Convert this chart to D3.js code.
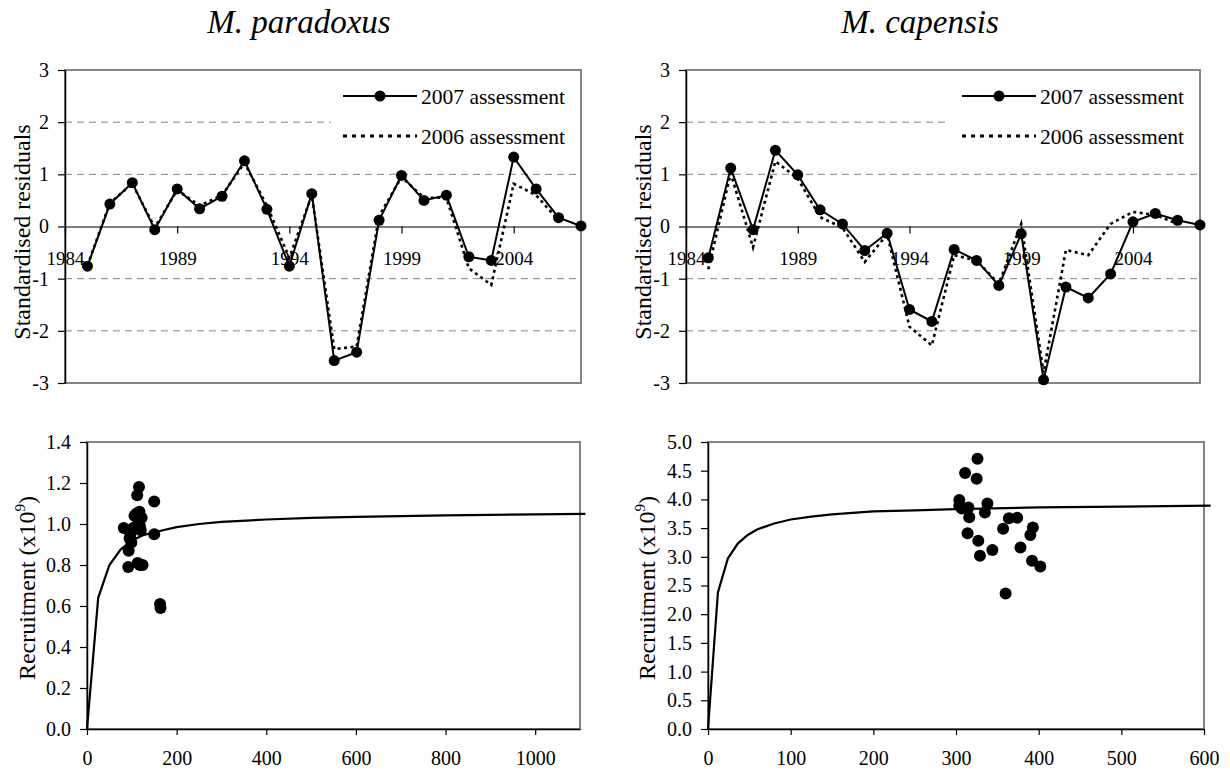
<!DOCTYPE html>
<html><head><meta charset="utf-8">
<script src="https://cdn.jsdelivr.net/npm/d3@7"></script>
<style>
body{margin:0;background:#fff}
svg{display:block}
</style>
</head><body>
<svg id="c" width="1230" height="772"></svg>
<script>
// ---------- DATA ----------
const years = [1985,1986,1987,1988,1989,1990,1991,1992,1993,1994,1995,1996,1997,1998,1999,2000,2001,2002,2003,2004,2005,2006,2007];
const yearTicks = [1984,1989,1994,1999,2004];
const residTicks = [-3,-2,-1,0,1,2,3];
const residGrid = [-2,-1,1,2];

const paraRes2007 = [-0.76,0.43,0.84,-0.06,0.72,0.34,0.58,1.26,0.33,-0.76,0.63,-2.57,-2.41,0.12,0.98,0.50,0.60,-0.58,-0.65,1.33,0.72,0.17,0.01];
const paraRes2006 = [-0.75,0.45,0.82,-0.02,0.70,0.40,0.60,1.22,0.40,-0.60,0.60,-2.35,-2.30,0.20,0.95,0.55,0.55,-0.80,-1.12,0.82,0.60,0.12,null];

const capeRes2007 = [-0.60,1.12,-0.06,1.46,0.99,0.32,0.05,-0.46,-0.13,-1.59,-1.82,-0.44,-0.65,-1.13,-0.14,-2.94,-1.16,-1.37,-0.91,0.09,0.25,0.12,0.03];
const capeRes2006 = [-0.82,1.02,-0.40,1.25,0.92,0.18,-0.02,-0.68,-0.15,-1.92,-2.28,-0.55,-0.65,-1.10,0.05,-2.80,-0.45,-0.55,0.05,0.28,0.22,0.05,null];

const legendLabels = ["2007 assessment","2006 assessment"];
const titles = ["M. paradoxus","M. capensis"];

// stock–recruitment: spawning biomass (x) vs recruitment (x10^9)
const paraSRx = [82,93,92,95,97,99,103,106,112,116,117,114,122,120,118,113,118,124,150,150,163,164,110];
const paraSRy = [0.98,0.87,0.79,0.93,0.95,0.91,0.98,1.04,1.14,1.18,1.06,1.00,1.03,0.97,0.99,0.81,0.80,0.80,1.11,0.95,0.61,0.59,1.05];
const paraCurveX = [0,25,50,75,100,125,150,200,250,300,400,500,600,800,1000,1112];
const paraCurveY = [0,0.64,0.80,0.875,0.92,0.945,0.96,0.985,1.0,1.01,1.022,1.03,1.035,1.042,1.047,1.049];
const paraXTicks = [0,200,400,600,800,1000];
const paraYTicks = [0,0.2,0.4,0.6,0.8,1.0,1.2,1.4];

const capeSRx = [304,304,307,311,315,316,314,326,325,327,329,338,335,344,357,360,364,374,378,390,393,392,402];
const capeSRy = [3.99,3.89,3.84,4.46,3.86,3.69,3.41,4.71,4.36,3.28,3.02,3.93,3.77,3.12,3.49,2.36,3.67,3.68,3.16,3.38,3.51,2.93,2.83];
const capeCurveX = [0,12,24,36,48,60,80,100,125,150,200,250,300,400,500,608];
const capeCurveY = [0,2.38,2.97,3.23,3.38,3.48,3.58,3.65,3.70,3.74,3.79,3.81,3.83,3.86,3.875,3.89];
const capeXTicks = [0,100,200,300,400,500,600];
const capeYTicks = [0,0.5,1.0,1.5,2.0,2.5,3.0,3.5,4.0,4.5,5.0];

// ---------- DRAWING ----------
const svg = d3.select("#c");
const GRAY = "#858585";
const TICKFS = 20;
const SERIF = "'Liberation Serif', 'Times New Roman', 'DejaVu Serif', serif";

function residPanel(o){
  const g = svg.append("g");
  const x = d3.scaleLinear().domain([1984,2007]).range([o.x0,o.x1]);
  const y = d3.scaleLinear().domain([-3,3]).range([o.y1,o.y0]);

  g.append("text").attr("x",o.titleX).attr("y",33).attr("text-anchor","middle")
    .style("font-size","33px").style("font-style","italic").text(o.title);

  g.selectAll("line.grid").data(residGrid).join("line")
    .attr("x1",o.x0).attr("x2",o.x1).attr("y1",d=>y(d)).attr("y2",d=>y(d))
    .attr("stroke",GRAY).attr("stroke-width",1).attr("stroke-dasharray","7,5");

  g.append("rect").attr("x",o.x1-250).attr("y",o.y0+3).attr("width",248).attr("height",80).attr("fill","#fff");

  g.append("rect").attr("x",o.x0).attr("y",o.y0).attr("width",o.x1-o.x0).attr("height",o.y1-o.y0)
    .attr("fill","none").attr("stroke",GRAY).attr("stroke-width",2);

  const ya = g.append("g").attr("transform",`translate(${o.x0},0)`)
    .call(d3.axisLeft(y).tickValues(residTicks).tickSize(7).tickSizeOuter(0).tickPadding(9).tickFormat(d=>String(d)));
  ya.select(".domain").attr("stroke","#000").attr("stroke-width",1.5);
  ya.selectAll(".tick line").attr("stroke","#000").attr("stroke-width",1.2);
  ya.selectAll("text").style("font-size",TICKFS+"px");

  const xa = g.append("g").attr("transform",`translate(0,${y(0)})`)
    .call(d3.axisBottom(x).tickValues(yearTicks).tickSize(7).tickSizeOuter(0).tickPadding(18).tickFormat(d=>String(d)));
  xa.select(".domain").attr("stroke","#000").attr("stroke-width",1.2);
  xa.selectAll(".tick line").attr("stroke","#000").attr("stroke-width",1.2);
  xa.selectAll("text").style("font-size","19px");

  g.append("text").attr("transform",`translate(${o.yTitleX},232) rotate(-90)`).attr("text-anchor","middle")
    .style("font-size","24px").text("Standardised residuals");

  const d07 = years.map((yr,i)=>[yr,o.s07[i]]);
  const d06 = years.map((yr,i)=>[yr,o.s06[i]]);
  const line = d3.line().defined(d=>d[1]!=null).x(d=>x(d[0])).y(d=>y(d[1]));

  g.append("path").datum(d06).attr("d",line).attr("fill","none").attr("stroke","#000")
    .attr("stroke-width",2.6).attr("stroke-dasharray","3,3.5");
  g.append("path").datum(d07).attr("d",line).attr("fill","none").attr("stroke","#000").attr("stroke-width",2);
  g.selectAll("circle.m").data(d07).join("circle")
    .attr("cx",d=>x(d[0])).attr("cy",d=>y(d[1])).attr("r",5.5).attr("fill","#000");

  const lx0 = o.x1-238, lx1 = o.x1-164, ly = [96,136];
  g.append("line").attr("x1",lx0).attr("x2",lx1).attr("y1",ly[0]).attr("y2",ly[0]).attr("stroke","#000").attr("stroke-width",2);
  g.append("circle").attr("cx",(lx0+lx1)/2).attr("cy",ly[0]).attr("r",5.5).attr("fill","#000");
  g.append("line").attr("x1",lx0).attr("x2",lx1).attr("y1",ly[1]).attr("y2",ly[1]).attr("stroke","#000")
    .attr("stroke-width",3).attr("stroke-dasharray","4,5");
  legendLabels.forEach((t,i)=>{
    g.append("text").attr("x",lx1+4).attr("y",ly[i]).attr("dy","0.35em").style("font-size","21.5px").text(t);
  });
}

function srPanel(o){
  const g = svg.append("g");
  const x = d3.scaleLinear().domain([0,o.xmax]).range([o.x0,o.x1]);
  const y = d3.scaleLinear().domain([0,o.ymax]).range([o.y1,o.y0]);

  g.append("rect").attr("x",o.x0).attr("y",o.y0).attr("width",o.x1-o.x0).attr("height",o.y1-o.y0)
    .attr("fill","none").attr("stroke",GRAY).attr("stroke-width",2);

  const ya = g.append("g").attr("transform",`translate(${o.x0},0)`)
    .call(d3.axisLeft(y).tickValues(o.yTicks).tickSize(7).tickSizeOuter(0).tickPadding(9).tickFormat(d3.format(".1f")));
  ya.select(".domain").attr("stroke","#000").attr("stroke-width",1.5);
  ya.selectAll(".tick line").attr("stroke","#000").attr("stroke-width",1.2);
  ya.selectAll("text").style("font-size",TICKFS+"px");

  const xa = g.append("g").attr("transform",`translate(0,${o.y1})`)
    .call(d3.axisBottom(x).tickValues(o.xTicks).tickSize(6).tickSizeOuter(0).tickPadding(16).tickFormat(d=>String(d)));
  xa.select(".domain").attr("stroke","#000").attr("stroke-width",1.5);
  xa.selectAll(".tick line").attr("stroke","#000").attr("stroke-width",1.2);
  xa.selectAll("text").style("font-size",TICKFS+"px");

  const t = g.append("text").attr("transform",`translate(${o.yTitleX},588) rotate(-90)`).attr("text-anchor","middle")
    .style("font-size","24px");
  t.append("tspan").text("Recruitment (x10");
  t.append("tspan").attr("dy",-10).style("font-size","15px").text("9");
  t.append("tspan").attr("dy",10).text(")");

  const curve = o.cx.map((v,i)=>[v,o.cy[i]]);
  g.append("path").datum(curve).attr("d",d3.line().x(d=>x(d[0])).y(d=>y(d[1])))
    .attr("fill","none").attr("stroke","#000").attr("stroke-width",2.2);

  const pts = o.px.map((v,i)=>[v,o.py[i]]);
  g.selectAll("circle.p").data(pts).join("circle")
    .attr("cx",d=>x(d[0])).attr("cy",d=>y(d[1])).attr("r",6).attr("fill","#000");
}

residPanel({x0:65,x1:581,y0:70,y1:383,title:titles[0],titleX:299,yTitleX:30,s07:paraRes2007,s06:paraRes2006});
residPanel({x0:686,x1:1200,y0:70,y1:383,title:titles[1],titleX:920,yTitleX:651,s07:capeRes2007,s06:capeRes2006});

srPanel({x0:87,x1:580,y0:442,y1:729,xmax:1100,ymax:1.4,xTicks:paraXTicks,yTicks:paraYTicks,yTitleX:35,
  cx:paraCurveX,cy:paraCurveY,px:paraSRx,py:paraSRy});
srPanel({x0:708,x1:1204,y0:442,y1:729,xmax:600,ymax:5.0,xTicks:capeXTicks,yTicks:capeYTicks,yTitleX:655,
  cx:capeCurveX,cy:capeCurveY,px:capeSRx,py:capeSRy});

// serif typeface on every text, overriding the axis defaults
svg.selectAll("g").attr("font-family",null);
svg.selectAll("text").style("font-family",SERIF).attr("fill","#000");
</script>
</body></html>
